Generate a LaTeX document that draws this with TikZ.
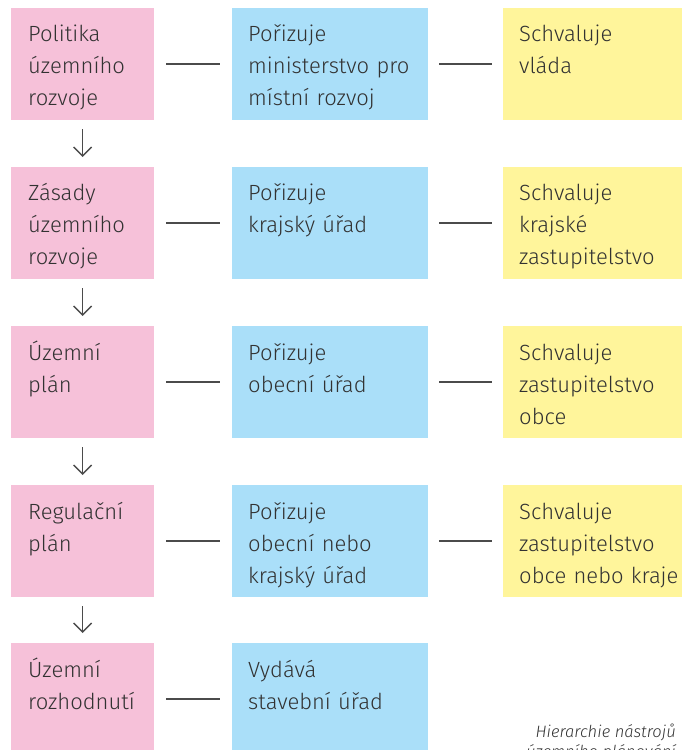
\documentclass[tikz,border=0pt]{standalone}
\usepackage{fontspec}
\setmainfont{Fira Sans}[UprightFont=* Light, ItalicFont=* Light Italic]
\usetikzlibrary{arrows.meta}
\definecolor{pinkbox}{RGB}{246,193,217}
\definecolor{bluebox}{RGB}{170,223,249}
\definecolor{yellowbox}{RGB}{255,245,155}
\definecolor{txt}{RGB}{50,50,50}
\definecolor{conn}{RGB}{75,75,75}
\tikzset{
  x=1pt, y=-1pt,
  box/.style={draw=none, inner sep=0pt, anchor=north west, minimum height=112pt},
  pbox/.style={box, fill=pinkbox, minimum width=143pt},
  bbox/.style={box, fill=bluebox, minimum width=196pt},
  ybox/.style={box, fill=yellowbox, minimum width=180pt},
  lbl/.style={anchor=base west, inner sep=0pt, text width=175pt, align=left,
    text=txt, font=\fontsize{22}{32}\selectfont},
  link/.style={draw=conn, line width=1.5pt},
  down/.style={draw=conn, line width=1.4pt, -{Straight Barb[length=9pt,width=18pt,line width=1.4pt]}},
  captext/.style={anchor=base east, inner sep=0pt, align=right, text=txt,
    font=\fontsize{16.5}{20}\selectfont\itshape}
}
\begin{document}
\begin{tikzpicture}
\useasboundingbox (0,0) rectangle (682,750);
% row tops: 8, 167, 326, 485, 643
\node[pbox] (p1) at (11,8) {};
\node[bbox] (b1) at (232,8) {};
\node[ybox] (y1) at (503,8) {};
\node[pbox] (p2) at (11,167) {};
\node[bbox] (b2) at (232,167) {};
\node[ybox] (y2) at (503,167) {};
\node[pbox] (p3) at (11,326) {};
\node[bbox] (b3) at (232,326) {};
\node[ybox] (y3) at (503,326) {};
\node[pbox] (p4) at (11,485) {};
\node[bbox] (b4) at (232,485) {};
\node[ybox] (y4) at (503,485) {};
\node[pbox] (p5) at (11,643) {};
\node[bbox] (b5) at (232,643) {};

\node[lbl] (p1t) at (28,41) {Politika\\územního\\rozvoje};
\node[lbl] (b1t) at (248,41) {Pořizuje\\ministerstvo pro\\místní rozvoj};
\node[lbl] (y1t) at (519,41) {Schvaluje\\vláda};
\node[lbl] (p2t) at (28,200) {Zásady\\územního\\rozvoje};
\node[lbl] (b2t) at (248,200) {Pořizuje\\krajský úřad};
\node[lbl] (y2t) at (519,200) {Schvaluje\\krajské\\zastupitelstvo};
\node[lbl] (p3t) at (28,360) {Územní\\plán};
\node[lbl] (b3t) at (248,360) {Pořizuje\\obecní úřad};
\node[lbl] (y3t) at (519,360) {Schvaluje\\zastupitelstvo\\obce};
\node[lbl] (p4t) at (28,519) {Regulační\\plán};
\node[lbl] (b4t) at (248,519) {Pořizuje\\obecní nebo\\krajský úřad};
\node[lbl] (y4t) at (519,519) {Schvaluje\\zastupitelstvo\\obce nebo kraje};
\node[lbl] (p5t) at (28,677) {Územní\\rozhodnutí};
\node[lbl] (b5t) at (248,677) {Vydává\\stavební úřad};

% horizontal connectors
\foreach \i in {1,2,3,4} {
  \draw[link] ([xshift=12pt]p\i.east) -- ([xshift=-12pt]b\i.west);
  \draw[link] ([xshift=11pt]b\i.east) -- ([xshift=-11pt]y\i.west);
}
\draw[link] ([xshift=12pt]p5.east) -- ([xshift=-12pt]b5.west);

% down arrows
\foreach \i/\j in {1/2,2/3,3/4,4/5} {
  \draw[down] ([yshift=-9pt]p\i.south) -- ([yshift=10pt]p\j.north);
}

% caption: anchor is the baseline of the last line
\node[captext] (caption) at (676,757) {Hierarchie nástrojů\\územního plánování};
\end{tikzpicture}
\end{document}
